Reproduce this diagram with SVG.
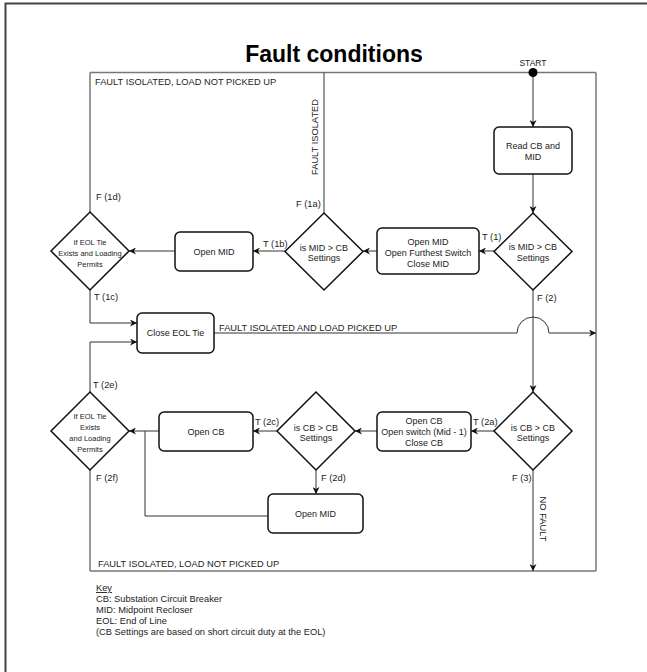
<svg xmlns="http://www.w3.org/2000/svg" width="647" height="672" viewBox="0 0 647 672">
<defs>
<marker id="arr" viewBox="0 0 10 10" refX="10" refY="5" markerWidth="7" markerHeight="7" markerUnits="userSpaceOnUse" orient="auto">
<path d="M0,0 L10,5 L0,10 L3,5 Z" fill="#111"/>
</marker>
<style>
text{font-family:"Liberation Sans",Arial,sans-serif;fill:#222;}
.t9{font-size:9.3px;}
.t8{font-size:9.3px;}
.d{font-size:7.5px;text-anchor:middle;}
.c{text-anchor:middle;font-size:9px;}
.node{fill:#fff;stroke:#111;stroke-width:1.5;}
.con{fill:none;stroke:#333;stroke-width:1;}
.frm{fill:none;stroke:#777;stroke-width:1.5;}
</style>
</defs>
<rect x="0" y="0" width="647" height="672" fill="#fff"/>
<polyline points="5.5,672 5.5,3.5 647,3.5" fill="none" stroke="#444" stroke-width="2"/>
<text x="334" y="62" style="font-size:23px;font-weight:bold;text-anchor:middle;fill:#000">Fault conditions</text>

<g id="connectors">
<line class="frm" x1="90" y1="72.5" x2="596" y2="72.5"/>
<line class="frm" x1="596" y1="72.5" x2="596" y2="571"/>
<line class="frm" x1="90" y1="571" x2="596" y2="571"/>
<line class="frm" x1="90" y1="212" x2="90" y2="72.5"/>
<line class="frm" x1="90" y1="470" x2="90" y2="571"/>
<line class="con" x1="324" y1="213" x2="324" y2="72.5"/>
<line class="con" x1="533" y1="72.5" x2="533" y2="127" marker-end="url(#arr)"/>
<line class="con" x1="533" y1="174" x2="533" y2="213" marker-end="url(#arr)"/>
<line class="con" x1="494" y1="251" x2="479" y2="251" marker-end="url(#arr)"/>
<line class="con" x1="377" y1="251" x2="363" y2="251" marker-end="url(#arr)"/>
<line class="con" x1="285" y1="251" x2="253" y2="251" marker-end="url(#arr)"/>
<line class="con" x1="175" y1="251" x2="129" y2="251" marker-end="url(#arr)"/>
<polyline class="con" points="90,290 90,323 137,323" marker-end="url(#arr)"/>
<polyline class="con" points="90,392 90,342 137,342" marker-end="url(#arr)"/>
<path class="con" d="M214,333 L517,333 A16,16 0 0 1 549,333 L596,333" marker-end="url(#arr)"/>
<line class="con" x1="533" y1="290" x2="533" y2="392" marker-end="url(#arr)"/>
<line class="con" x1="494" y1="431" x2="471" y2="431" marker-end="url(#arr)"/>
<line class="con" x1="377" y1="431" x2="355" y2="431" marker-end="url(#arr)"/>
<line class="con" x1="277" y1="431" x2="253" y2="431" marker-end="url(#arr)"/>
<line class="con" x1="159" y1="431" x2="129" y2="431" marker-end="url(#arr)"/>
<line class="con" x1="316" y1="470" x2="316" y2="494" marker-end="url(#arr)"/>
<polyline class="con" points="268,516 145,516 145,431"/>
<line class="con" x1="533" y1="470" x2="533" y2="571" marker-end="url(#arr)"/>
<circle cx="533" cy="72.5" r="4.5" fill="#000"/>

<text class="c" x="533" y="66" style="font-size:8.5px">START</text>
<text class="t9" x="95" y="85">FAULT ISOLATED, LOAD NOT PICKED UP</text>
<text class="t9" transform="translate(318,137) rotate(-90)" text-anchor="middle">FAULT ISOLATED</text>
<text class="t9" x="482" y="240">T (1)</text>
<text class="t9" x="537" y="301">F (2)</text>
<text class="t9" x="263" y="247">T (1b)</text>
<text class="t9" x="96" y="200">F (1d)</text>
<text class="t9" x="296" y="207">F (1a)</text>
<text class="t9" x="94" y="300">T (1c)</text>
<text class="t9" x="219" y="331">FAULT ISOLATED AND LOAD PICKED UP</text>
<text class="t9" x="93" y="388">T (2e)</text>
<text class="t9" x="255" y="425">T (2c)</text>
<text class="t9" x="321" y="481">F (2d)</text>
<text class="t9" x="96" y="481">F (2f)</text>
<text class="t9" x="473" y="425">T (2a)</text>
<text class="t9" x="512" y="481">F (3)</text>
<text class="t9" transform="translate(540,519) rotate(90)" text-anchor="middle">NO FAULT</text>
<text class="t9" x="98" y="567">FAULT ISOLATED, LOAD NOT PICKED UP</text>
</g>

<g id="read"><rect class="node" x="494" y="127" width="78" height="47" rx="5"/><text class="c" x="533" y="149">Read CB and</text><text class="c" x="533" y="160">MID</text></g>
<g id="dec1"><polygon class="node" points="533,213 572,251.5 533,290 494,251.5"/><text class="c" x="533" y="250">is MID &gt; CB</text><text class="c" x="533" y="260.5">Settings</text></g>
<g id="act1"><rect class="node" x="377" y="228" width="102" height="46" rx="5"/><text class="c" x="428" y="245">Open MID</text><text class="c" x="428" y="256">Open Furthest Switch</text><text class="c" x="428" y="266.5">Close MID</text></g>
<g id="dec1a"><polygon class="node" points="324,213 363,251.5 324,290 285,251.5"/><text class="c" x="324" y="250.5">is MID &gt; CB</text><text class="c" x="324" y="261">Settings</text></g>
<g id="openmid1"><rect class="node" x="175" y="232" width="78" height="39" rx="5"/><text class="c" x="214" y="254.5">Open MID</text></g>
<g id="eol1"><polygon class="node" points="90,212 129,251 90,290 51,251"/><text class="d" x="90" y="244.5">If EOL Tie</text><text class="d" x="90" y="255.5">Exists and Loading</text><text class="d" x="90" y="266.5">Permits</text></g>
<g id="closeeol"><rect class="node" x="137" y="313" width="77" height="40" rx="5"/><text class="c" x="175.5" y="336">Close EOL Tie</text></g>
<g id="dec2"><polygon class="node" points="533,392 572,431 533,470 494,431"/><text class="c" x="533" y="430.5">is CB &gt; CB</text><text class="c" x="533" y="441">Settings</text></g>
<g id="act2"><rect class="node" x="377" y="412" width="94" height="39" rx="5"/><text class="c" x="424" y="424">Open CB</text><text class="c" x="424" y="435">Open switch (Mid - 1)</text><text class="c" x="424" y="446">Close CB</text></g>
<g id="dec2b"><polygon class="node" points="316,392 355,431 316,470 277,431"/><text class="c" x="316" y="430.5">is CB &gt; CB</text><text class="c" x="316" y="441">Settings</text></g>
<g id="opencb"><rect class="node" x="159" y="412" width="94" height="39" rx="5"/><text class="c" x="206" y="434.5">Open CB</text></g>
<g id="openmid2"><rect class="node" x="268" y="494" width="95" height="39" rx="5"/><text class="c" x="315.5" y="517">Open MID</text></g>
<g id="eol2"><polygon class="node" points="90,392 129,431 90,470 51,431"/><text class="d" x="90" y="419">If EOL Tie</text><text class="d" x="90" y="430">Exists</text><text class="d" x="90" y="441">and Loading</text><text class="d" x="90" y="451.5">Permits</text></g>

<g id="key">
<text class="t8" x="96" y="591" text-decoration="underline">Key</text>
<text class="t8" x="96" y="602">CB: Substation Circuit Breaker</text>
<text class="t8" x="96" y="613">MID: Midpoint Recloser</text>
<text class="t8" x="96" y="624">EOL: End of Line</text>
<text class="t8" x="96" y="635">(CB Settings are based on short circuit duty at the EOL)</text>
</g>
</svg>
